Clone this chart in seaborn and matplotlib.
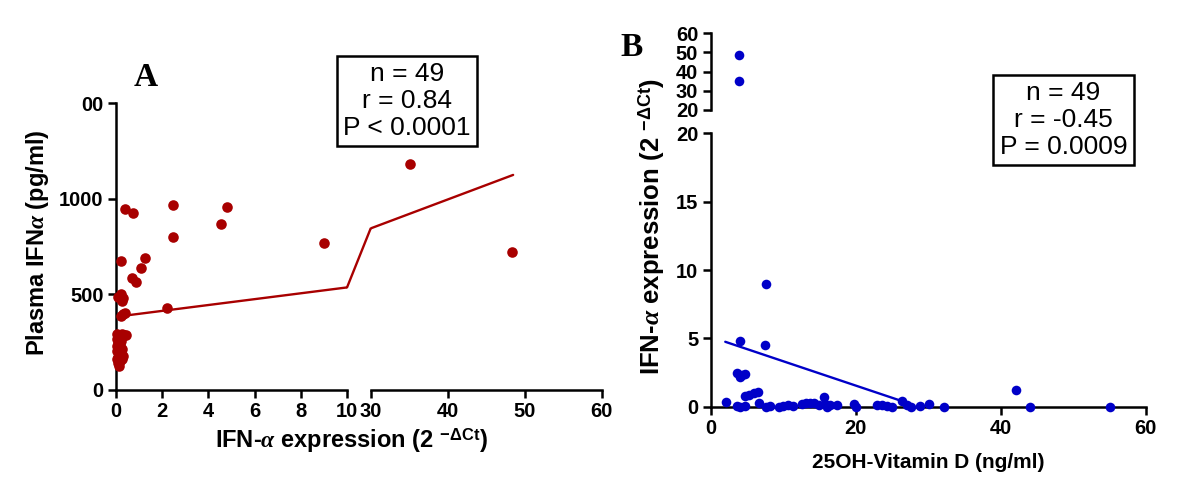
import numpy as np
import pandas as pd
import matplotlib
matplotlib.use('Agg')
import matplotlib.pyplot as plt
from matplotlib.patches import ConnectionPatch
import seaborn as sns

# Painel A: expressao de IFN-a (2^-dCt) x IFNa plasmatico (pg/ml)
a_x = [0.39, 0.75, 2.45, 4.82, 4.53, 2.45, 9.02, 35.1, 48.4,
       0.2, 1.26, 1.07, 0.71, 0.85,
       0.2, 0.3, 0.1, 0.25, 2.19, 0.4, 0.2, 0.3,
       0.05, 0.15, 0.25, 0.35, 0.45, 0.1, 0.2, 0.3, 0.05, 0.12, 0.22,
       0.08, 0.18, 0.05, 0.15, 0.25, 0.06, 0.12, 0.2, 0.3, 0.08, 0.18,
       0.05, 0.15, 0.25, 0.07, 0.12]
a_y = [948, 928, 967, 960, 867, 800, 768, 1182, 724,
       675, 689, 637, 585, 567,
       500, 480, 485, 465, 428, 405, 385, 398,
       295, 290, 292, 288, 290, 280, 275, 282, 268, 260, 255,
       245, 238, 228, 222, 215, 205, 195, 188, 178, 175, 168,
       160, 152, 162, 140, 128]
a_fit_x = [0.1, 10, 30, 48.5]
a_fit_y = [385, 537, 846, 1126]

# Painel B: 25OH-Vitamina D (ng/ml) x expressao de IFN-a
b_x = [3.96, 3.96,
       7.65, 4.05, 7.5,
       3.6, 4.05, 4.74, 4.28,
       6.45, 5.9, 5.34, 4.74, 2.12, 15.57, 26.4, 42.1,
       3.6, 4.1, 4.74, 6.6, 7.65, 8.2, 9.35, 10.0, 10.7, 11.4, 12.6,
       13.2, 13.7, 14.2, 14.9, 15.8, 16.0, 16.5, 17.4, 19.7, 20.0, 22.9,
       23.6, 24.3, 25.0, 27.1, 27.6, 28.9, 30.1, 32.2, 44.1, 55.1]
b_y = [48.5, 35.3,
       9.0, 4.8, 4.5,
       2.44, 2.19, 2.39, 2.32,
       1.1, 0.98, 0.86, 0.75, 0.37, 0.73, 0.4, 1.22,
       0.02, 0.0, 0.03, 0.25, 0.0, 0.02, 0.0, 0.05, 0.1, 0.05, 0.2,
       0.25, 0.3, 0.3, 0.1, 0.2, 0.0, 0.1, 0.15, 0.2, 0.0, 0.15,
       0.15, 0.05, 0.0, 0.15, 0.0, 0.05, 0.2, 0.0, 0.0, 0.0]
b_fit_x = [2.0, 26.6]
b_fit_y = [4.75, 0.37]

cor_a = '#a80000'
cor_b = '#0000c8'

sns.set_style('ticks')
plt.rcParams['font.family'] = ['Liberation Sans', 'DejaVu Sans']
plt.rcParams['font.weight'] = 'bold'
plt.rcParams['text.color'] = 'black'
plt.rcParams['mathtext.fontset'] = 'custom'
plt.rcParams['mathtext.rm'] = 'Liberation Sans:bold'
plt.rcParams['mathtext.bf'] = 'Liberation Sans:bold'
plt.rcParams['mathtext.it'] = 'Liberation Serif:italic'
plt.rcParams['axes.linewidth'] = 1.8

df_a = pd.DataFrame({'x': a_x, 'y': a_y})
df_b = pd.DataFrame({'x': b_x, 'y': b_y})

fig = plt.figure(figsize=(12, 4.82), dpi=100)

rotulo_x = r'IFN-$\alpha$ expression (2 $^{-\Delta\mathrm{Ct}}$)'


def estilo(ax):
    ax.tick_params(direction='out', length=6, width=1.8, labelsize=14.5, pad=3,
                   colors='black')
    for s in ax.spines.values():
        s.set_color('black')
        s.set_linewidth(1.8)


# ---- painel A (eixo x quebrado 10 | 30) ----
ax1 = fig.add_axes([0.0967, 0.1909, 0.1925, 0.5944])
ax2 = fig.add_axes([0.3089, 0.1909, 0.1925, 0.5944])

sns.scatterplot(data=df_a[df_a.x <= 10], x='x', y='y', color=cor_a, s=58,
                linewidth=0, ax=ax1, clip_on=False, zorder=3)
sns.scatterplot(data=df_a[df_a.x >= 30], x='x', y='y', color=cor_a, s=58,
                linewidth=0, ax=ax2, clip_on=False, zorder=3)
ax1.plot(a_fit_x[:2], a_fit_y[:2], color=cor_a, lw=1.7)
ax2.plot(a_fit_x[2:], a_fit_y[2:], color=cor_a, lw=1.7)
con = ConnectionPatch(xyA=(a_fit_x[1], a_fit_y[1]), coordsA=ax1.transData,
                      xyB=(a_fit_x[2], a_fit_y[2]), coordsB=ax2.transData,
                      color=cor_a, lw=1.7)
fig.add_artist(con)

for ax in (ax1, ax2):
    ax.set_ylim(0, 1500)
    ax.set_xlabel('')
    ax.set_ylabel('')
    estilo(ax)
ax1.set_xlim(0, 10)
ax1.set_xticks([0, 2, 4, 6, 8, 10])
ax1.set_yticks([0, 500, 1000, 1500])
ax1.set_yticklabels(['0', '500', '1000', '00'])
sns.despine(ax=ax1)
ax2.set_xlim(30, 60)
ax2.set_xticks([30, 40, 50, 60])
ax2.set_yticks([])
sns.despine(ax=ax2, left=True)

fig.text(38 / 1200, 1 - 243 / 482, r'Plasma IFN$\alpha$ (pg/ml)', rotation=90,
         ha='center', va='center', fontsize=17)
fig.text(351 / 1200, 1 - 441 / 482, rotulo_x, ha='center', va='center', fontsize=17)
fig.text(407 / 1200, 1 - 101 / 482, 'n = 49\nr = 0.84\nP < 0.0001', ha='center', va='center',
         fontsize=19, fontweight='normal', linespacing=1.15,
         bbox=dict(boxstyle='square,pad=0.25', fc='white', ec='black', lw=1.8))
fig.text(146 / 1200, 1 - 78 / 482, 'A', ha='center', va='center', fontsize=24,
         family='Liberation Serif', fontweight='bold')

# ---- painel B (eixo y quebrado 20 | 20) ----
axb = fig.add_axes([0.5923, 0.1562, 0.3625, 0.5672])
axt = fig.add_axes([0.5923, 0.7718, 0.3625, 0.1591])

sns.scatterplot(data=df_b[df_b.y <= 20], x='x', y='y', color=cor_b, s=48,
                linewidth=0, ax=axb, clip_on=False, zorder=3)
sns.scatterplot(data=df_b[df_b.y > 20], x='x', y='y', color=cor_b, s=48,
                linewidth=0, ax=axt, clip_on=False, zorder=3)
axb.plot(b_fit_x, b_fit_y, color=cor_b, lw=1.7)

for ax in (axb, axt):
    ax.set_xlim(0, 60)
    ax.set_xlabel('')
    ax.set_ylabel('')
    estilo(ax)
axb.set_ylim(0, 20)
axb.set_xticks([0, 20, 40, 60])
axb.set_yticks([0, 5, 10, 15, 20])
sns.despine(ax=axb)
axt.set_ylim(20, 60)
axt.set_yticks([20, 30, 40, 50, 60])
axt.set_xticks([])
sns.despine(ax=axt, bottom=True)

fig.text(652 / 1200, 1 - 226 / 482, rotulo_x, rotation=90,
         ha='center', va='center', fontsize=18.5)
fig.text(928 / 1200, 1 - 463 / 482, '25OH-Vitamin D (ng/ml)', ha='center', va='center',
         fontsize=15)
fig.text(1063.5 / 1200, 1 - 120 / 482, 'n = 49\nr = -0.45\nP = 0.0009', ha='center', va='center',
         fontsize=19, fontweight='normal', linespacing=1.15,
         bbox=dict(boxstyle='square,pad=0.25', fc='white', ec='black', lw=1.8))
fig.text(632 / 1200, 1 - 48 / 482, 'B', ha='center', va='center', fontsize=24,
         family='Liberation Serif', fontweight='bold')

fig.savefig('out.png', dpi=100)
